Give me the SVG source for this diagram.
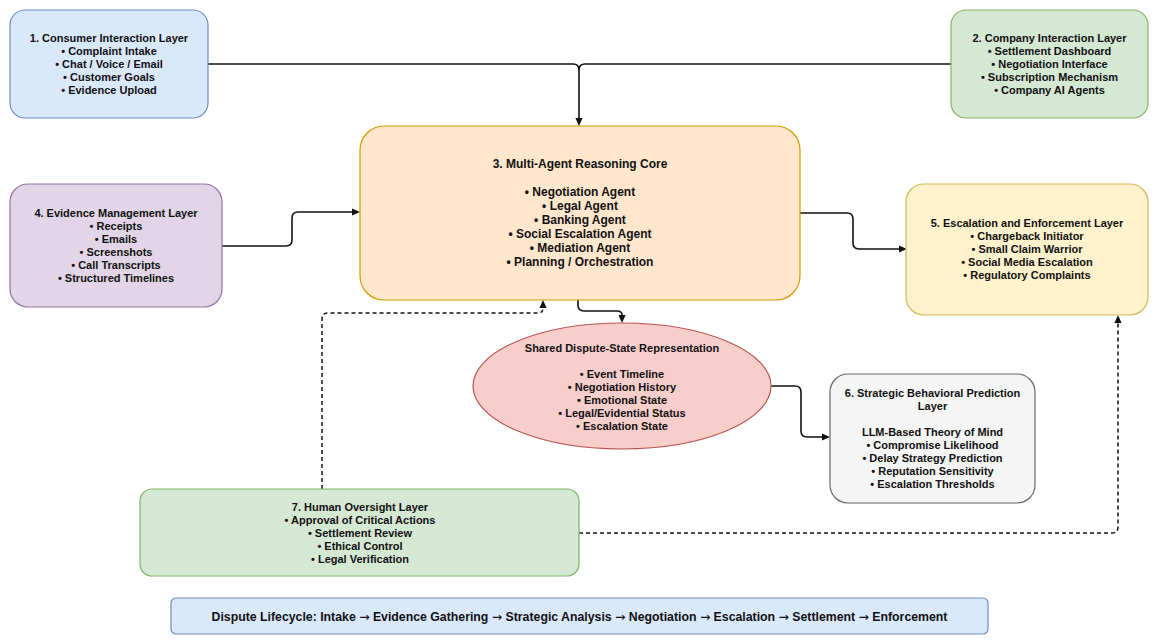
<svg xmlns="http://www.w3.org/2000/svg" width="1158" height="644" viewBox="0 0 1158 644">
<style>
text{font-family:"Liberation Sans",Arial,sans-serif;font-size:11px;font-weight:bold;fill:#111;text-anchor:middle}
.big{font-size:12px}
.bar{font-size:12.3px}
.ar{font-family:"DejaVu Sans",sans-serif;font-weight:normal}
.n{stroke-width:1.2}
.c{fill:none;stroke:#111;stroke-width:1.6}
.d{fill:none;stroke:#111;stroke-width:1.5;stroke-dasharray:4 3}
</style>
<defs>
<marker id="a" viewBox="0 0 10 10" refX="0" refY="5" markerWidth="8" markerHeight="8" markerUnits="userSpaceOnUse" orient="auto">
<path d="M0,0.5 L10,5 L0,9.5 z" fill="#111"/>
</marker>
</defs>
<rect width="1158" height="644" fill="#ffffff"/>

<g id="connectors">
<path class="c" d="M208,64 H573 Q579,64 579,70 V118" marker-end="url(#a)"/>
<path class="c" d="M951,64 H585 Q579,64 579,70"/>
<path class="c" d="M222,246 H286 Q292,246 292,240 V218 Q292,212 298,212 H352" marker-end="url(#a)"/>
<path class="c" d="M800,213 H847 Q853,213 853,219 V243 Q853,249 859,249 H899" marker-end="url(#a)"/>
<path class="c" d="M578,300 V305 Q578,311 584,311 H617 Q622,311 622,315" marker-end="url(#a)"/>
<path class="c" d="M771,386 H795 Q801,386 801,392 V431 Q801,437 807,437 H822" marker-end="url(#a)"/>
<path class="d" d="M322,489 V319 Q322,313 328,313 H538 Q543,313 543,308" marker-end="url(#a)"/>
<path class="d" d="M579,533 H1112 Q1118,533 1118,527 V323" marker-end="url(#a)"/>
</g>

<g id="node1">
<rect class="n" x="10" y="10" width="198" height="108" rx="15" fill="#dae8fc" stroke="#6c8ebf"/>
<text x="109" y="42">1. Consumer Interaction Layer</text>
<text x="109" y="55">• Complaint Intake</text>
<text x="109" y="68">• Chat / Voice / Email</text>
<text x="109" y="81">• Customer Goals</text>
<text x="109" y="94">• Evidence Upload</text>
</g>

<g id="node2">
<rect class="n" x="951" y="10" width="197" height="108" rx="15" fill="#d5e8d4" stroke="#82b366"/>
<text x="1049.5" y="42">2. Company Interaction Layer</text>
<text x="1049.5" y="55">• Settlement Dashboard</text>
<text x="1049.5" y="68">• Negotiation Interface</text>
<text x="1049.5" y="81">• Subscription Mechanism</text>
<text x="1049.5" y="94">• Company AI Agents</text>
</g>

<g id="node3">
<rect class="n" x="360" y="126" width="440" height="174" rx="24" fill="#ffe6cc" stroke="#d79b00"/>
<text class="big" x="580" y="168">3. Multi-Agent Reasoning Core</text>
<text class="big" x="580" y="196">• Negotiation Agent</text>
<text class="big" x="580" y="210">• Legal Agent</text>
<text class="big" x="580" y="224">• Banking Agent</text>
<text class="big" x="580" y="238">• Social Escalation Agent</text>
<text class="big" x="580" y="252">• Mediation Agent</text>
<text class="big" x="580" y="266">• Planning / Orchestration</text>
</g>

<g id="node4">
<rect class="n" x="10" y="184" width="212" height="123" rx="18" fill="#e1d5e7" stroke="#9673a6"/>
<text x="116" y="217">4. Evidence Management Layer</text>
<text x="116" y="230">• Receipts</text>
<text x="116" y="243">• Emails</text>
<text x="116" y="256">• Screenshots</text>
<text x="116" y="269">• Call Transcripts</text>
<text x="116" y="282">• Structured Timelines</text>
</g>

<g id="node5">
<rect class="n" x="906" y="184" width="242" height="131" rx="18" fill="#fff2cc" stroke="#d6b656"/>
<text x="1027" y="227">5. Escalation and Enforcement Layer</text>
<text x="1027" y="240">• Chargeback Initiator</text>
<text x="1027" y="253">• Small Claim Warrior</text>
<text x="1027" y="266">• Social Media Escalation</text>
<text x="1027" y="279">• Regulatory Complaints</text>
</g>

<g id="state">
<ellipse class="n" cx="622" cy="386" rx="149" ry="63" fill="#f8cecc" stroke="#b85450"/>
<text x="622" y="352">Shared Dispute-State Representation</text>
<text x="622" y="378">• Event Timeline</text>
<text x="622" y="391">• Negotiation History</text>
<text x="622" y="404">• Emotional State</text>
<text x="622" y="417">• Legal/Evidential Status</text>
<text x="622" y="430">• Escalation State</text>
</g>

<g id="node6">
<rect class="n" x="830" y="374" width="205" height="129" rx="18" fill="#f5f5f5" stroke="#666666"/>
<text x="932.5" y="397">6. Strategic Behavioral Prediction</text>
<text x="932.5" y="410">Layer</text>
<text x="932.5" y="436">LLM-Based Theory of Mind</text>
<text x="932.5" y="449">• Compromise Likelihood</text>
<text x="932.5" y="462">• Delay Strategy Prediction</text>
<text x="932.5" y="475">• Reputation Sensitivity</text>
<text x="932.5" y="488">• Escalation Thresholds</text>
</g>

<g id="node7">
<rect class="n" x="140" y="489" width="439" height="87" rx="12" fill="#d5e8d4" stroke="#82b366"/>
<text x="360" y="511">7. Human Oversight Layer</text>
<text x="360" y="524">• Approval of Critical Actions</text>
<text x="360" y="537">• Settlement Review</text>
<text x="360" y="550">• Ethical Control</text>
<text x="360" y="563">• Legal Verification</text>
</g>

<g id="lifecycle">
<rect class="n" x="171" y="598" width="817" height="36" rx="5" fill="#dae8fc" stroke="#6c8ebf"/>
<text class="bar" x="579.5" y="621">Dispute Lifecycle: Intake <tspan class="ar">→</tspan> Evidence Gathering <tspan class="ar">→</tspan> Strategic Analysis <tspan class="ar">→</tspan> Negotiation <tspan class="ar">→</tspan> Escalation <tspan class="ar">→</tspan> Settlement <tspan class="ar">→</tspan> Enforcement</text>
</g>
</svg>
